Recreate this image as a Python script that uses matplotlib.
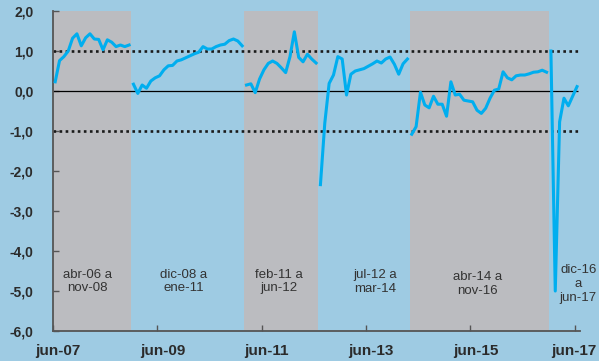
"""Monthly indicator with regime periods shaded, jun-07 to jun-17."""

import matplotlib.pyplot as plt
from matplotlib.transforms import ScaledTranslation

plt.rcParams["font.family"] = ["Liberation Sans", "DejaVu Sans"]

BG = "#9ecbe3"
SHADE = "#bbbcc0"
LINE = "#00aeef"
INK = "#2b2b2b"

# months counted from jun-07 = 0; each series is one regime, plotted mid-month
seg_starts = [0, 18, 44, 61, 82, 114]
seg_values = [
    [0.23, 0.76, 0.86, 1.00, 1.32, 1.43, 1.13, 1.33, 1.43, 1.30, 1.29, 1.03,
     1.28, 1.22, 1.11, 1.15, 1.11, 1.15],
    [0.17, -0.06, 0.15, 0.07, 0.25, 0.33, 0.38, 0.53, 0.63, 0.64, 0.75, 0.78,
     0.83, 0.88, 0.93, 0.97, 1.11, 1.05, 1.05, 1.11, 1.15, 1.17, 1.26, 1.30,
     1.25, 1.13],
    [0.15, 0.18, -0.04, 0.30, 0.53, 0.69, 0.75, 0.69, 0.58, 0.46, 0.86, 1.48,
     0.84, 0.73, 0.92, 0.80, 0.70],
    [-2.34, -0.80, 0.19, 0.40, 0.86, 0.80, -0.10, 0.42, 0.50, 0.53, 0.56, 0.62,
     0.68, 0.75, 0.70, 0.80, 0.85, 0.67, 0.42, 0.68, 0.80],
    [-1.08, -0.89, -0.03, -0.35, -0.42, -0.13, -0.33, -0.33, -0.63, 0.23,
     -0.10, -0.08, -0.23, -0.25, -0.27, -0.48, -0.56, -0.43, -0.18, 0.02,
     0.05, 0.48, 0.33, 0.28, 0.38, 0.40, 0.40, 0.43, 0.47, 0.48, 0.52, 0.47],
    [1.00, -5.00, -0.77, -0.18, -0.37, -0.13, 0.11],
]

# shaded regimes (month index of start and end, inclusive)
shaded = [(-14, 17), (44, 60), (82, 113)]

period_labels = ["abr-06 a\nnov-08", "dic-08 a\nene-11", "feb-11 a\njun-12",
                 "jul-12 a\nmar-14", "abr-14 a\nnov-16", "dic-16\na\njun-17"]
label_x = [7.9, 30.0, 52.0, 74.1, 97.7, 120.8]
label_y = [-4.76, -4.76, -4.76, -4.78, -4.82, -4.83]

tick_months = [0, 24, 48, 72, 96, 120]
tick_labels = ["jun-07", "jun-09", "jun-11", "jun-13", "jun-15", "jun-17"]
y_ticks = [2, 1, 0, -1, -2, -3, -4, -5, -6]

fig = plt.figure(figsize=(5.99, 3.61), dpi=100, facecolor=BG)
ax = fig.add_axes([0.0885, 0.083, 0.8795, 0.8865], facecolor=BG)
ax.set_xlim(0, 121.15)
ax.set_ylim(-6, 2)

for start, end in shaded:
    ax.axvspan(start, end + 1, color=SHADE, lw=0, zorder=0)

ax.hlines(0, 0, 120.7, color="black", lw=0.9, zorder=2)
ax.hlines([1, -1], 0, 120.7, color="#1a1a1a", lw=1.9,
          linestyles=[(0, (1, 1.3))], zorder=2)

for start, vals in zip(seg_starts, seg_values):
    xs = [start + i + 0.5 for i in range(len(vals))]
    ax.plot(xs, vals, color=LINE, lw=2.2, solid_joinstyle="round", zorder=3)

for x, y, txt in zip(label_x, label_y, period_labels):
    ax.text(x, y, txt, ha="center", va="center", fontsize=9.5, color="#333333",
            linespacing=1.2, zorder=4, clip_on=False)

for side in ("top", "right"):
    ax.spines[side].set_visible(False)
for side in ("left", "bottom"):
    ax.spines[side].set_color("#555555")
    ax.spines[side].set_linewidth(1.3)

ax.set_yticks(y_ticks)
ax.set_yticklabels([f"{v:.1f}".replace(".", ",") for v in y_ticks],
                   fontsize=10, fontweight="bold", color=INK)
ax.set_xticks(tick_months)
ax.set_xticklabels(tick_labels, fontsize=11, fontweight="bold", color=INK)
ax.tick_params(axis="y", direction="in", length=4, width=1, color="#555555", pad=14)
ax.tick_params(axis="x", direction="in", length=4, width=1, color="#555555", pad=9)

# nudge month labels right of their ticks; the last one stays inside the figure
for lbl in ax.get_xticklabels()[:-1]:
    lbl.set_transform(lbl.get_transform()
                      + ScaledTranslation(5 / 100, 0, fig.dpi_scale_trans))
last = ax.get_xticklabels()[-1]
last.set_transform(last.get_transform()
                   + ScaledTranslation(-1 / 100, 0, fig.dpi_scale_trans))

fig.savefig("out.png", dpi=100, facecolor=BG)
